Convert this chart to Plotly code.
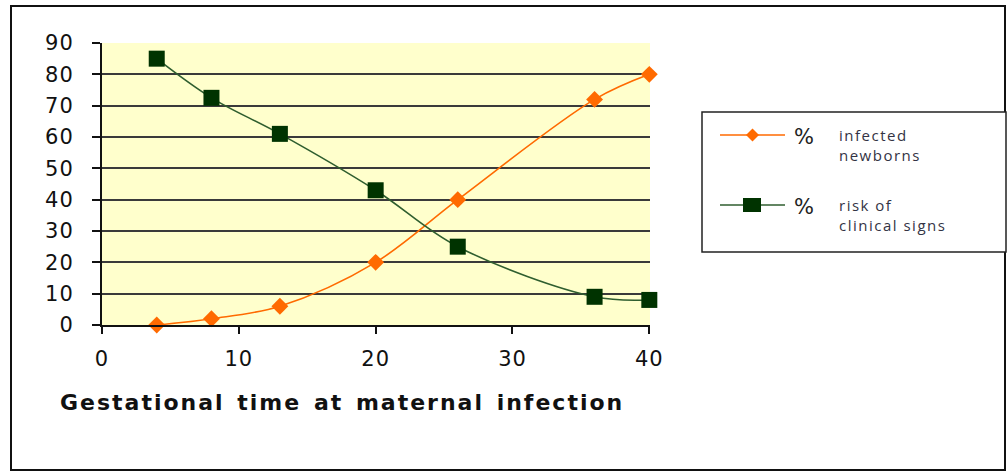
import plotly.graph_objects as go

# Gestational week at maternal infection
weeks = [4, 8, 13, 20, 26, 36, 40]
# % infected newborns
infected = [0, 2, 6, 20, 40, 72, 80]
# % risk of clinical signs
clinical = [85, 72.5, 61, 43, 25, 9, 8]

x_ticks = [0, 10, 20, 30, 40]
y_ticks = [0, 10, 20, 30, 40, 50, 60, 70, 80, 90]

W, H = 1008, 473
L, R, T, B = 102, 650, 43, 325  # plot area in pixels

ORANGE = "#ff6a00"
GREEN_LINE = "#2f5e2f"
GREEN_MARK = "#003300"
TICK_FONT = dict(family="DejaVu Sans", size=21, color="#111111")


def px(x):
    return (x - L) / (R - L)


def py(y):
    return (B - y) / (B - T)


def spaced(text, ls, ws=0):
    return f"<span style='letter-spacing:{ls}px;word-spacing:{ws}px'>{text}</span>"


fig = go.Figure()
fig.add_trace(go.Scatter(
    x=weeks, y=infected, mode="lines+markers", line_shape="spline",
    line=dict(color=ORANGE, width=1.6),
    marker=dict(symbol="diamond", size=13, color=ORANGE),
    name="% infected newborns", showlegend=False, cliponaxis=False))
fig.add_trace(go.Scatter(
    x=weeks, y=clinical, mode="lines+markers", line_shape="spline",
    line=dict(color=GREEN_LINE, width=1.6),
    marker=dict(symbol="square", size=16, color=GREEN_MARK),
    name="% risk of clinical signs", showlegend=False, cliponaxis=False))

shapes = [
    # outer frame
    dict(type="rect", xref="paper", yref="paper",
         x0=px(11), x1=px(1005), y0=py(470), y1=py(6),
         line=dict(color="#111111", width=2), layer="below"),
    # legend box
    dict(type="rect", xref="paper", yref="paper",
         x0=px(702), x1=px(1006), y0=py(252), y1=py(112),
         line=dict(color="#222222", width=1.5), fillcolor="white"),
    dict(type="line", xref="paper", yref="paper",
         x0=px(720), x1=px(785), y0=py(135), y1=py(135),
         line=dict(color=ORANGE, width=1.6)),
    dict(type="line", xref="paper", yref="paper",
         x0=px(720), x1=px(785), y0=py(205), y1=py(205),
         line=dict(color=GREEN_LINE, width=1.6)),
    dict(type="path", xref="paper", yref="paper",
         path=(f"M {px(746)} {py(135)} L {px(752.5)} {py(128.5)} "
               f"L {px(759)} {py(135)} L {px(752.5)} {py(141.5)} Z"),
         fillcolor=ORANGE, line=dict(width=0)),
    dict(type="rect", xref="paper", yref="paper",
         x0=px(743), x1=px(761), y0=py(212), y1=py(198),
         fillcolor=GREEN_MARK, line=dict(width=0)),
]

LEG_PCT = dict(family="DejaVu Sans", size=21, color="#222222")
LEG_TXT = dict(family="Open Sans", size=15, color="#333344")

annotations = [
    dict(text="%", xref="paper", yref="paper", x=px(792), y=py(137),
         xanchor="left", yanchor="middle", showarrow=False, font=LEG_PCT),
    dict(text=spaced("infected", 1.5) + "<br>" + spaced("newborns", 1.5),
         xref="paper", yref="paper", x=px(837), y=py(145),
         xanchor="left", yanchor="middle", showarrow=False, align="left",
         font=LEG_TXT),
    dict(text="%", xref="paper", yref="paper", x=px(792), y=py(207),
         xanchor="left", yanchor="middle", showarrow=False, font=LEG_PCT),
    dict(text=spaced("risk of", 1.5) + "<br>" + spaced("clinical signs", 1.5),
         xref="paper", yref="paper", x=px(837), y=py(215),
         xanchor="left", yanchor="middle", showarrow=False, align="left",
         font=LEG_TXT),
    dict(text="<b>" + spaced("Gestational time at maternal infection", 2, 3) + "</b>",
         xref="paper", yref="paper", x=px(58), y=py(402),
         xanchor="left", yanchor="middle", showarrow=False,
         font=dict(family="DejaVu Sans", size=22, color="#111111")),
]

fig.update_layout(
    width=W, height=H,
    margin=dict(l=L, r=W - R, t=T, b=H - B, pad=0),
    paper_bgcolor="white", plot_bgcolor="#ffffcc",
    shapes=shapes, annotations=annotations,
    font=dict(family="DejaVu Sans", size=18, color="#111111"),
)
fig.update_xaxes(
    range=[0, 40.05], tickvals=x_ticks,
    ticktext=[spaced(str(v), 1) for v in x_ticks],
    showgrid=False, zeroline=False,
    showline=True, linecolor="#111111", linewidth=2,
    ticks="outside", ticklen=7, tickwidth=1.5, tickcolor="#111111",
    tickfont=TICK_FONT, ticklabelstandoff=7, fixedrange=True)
fig.update_yaxes(
    range=[0, 90], tickvals=y_ticks,
    ticktext=[spaced(str(v), 1) for v in y_ticks],
    showgrid=True, gridcolor="#3a3a3a",
    gridwidth=2, zeroline=False, showline=True, linecolor="#111111",
    linewidth=2, ticks="outside", ticklen=8, tickwidth=1.5,
    tickcolor="#111111", tickfont=TICK_FONT, ticklabelstandoff=14,
    fixedrange=True)

fig.write_html("out.html")
